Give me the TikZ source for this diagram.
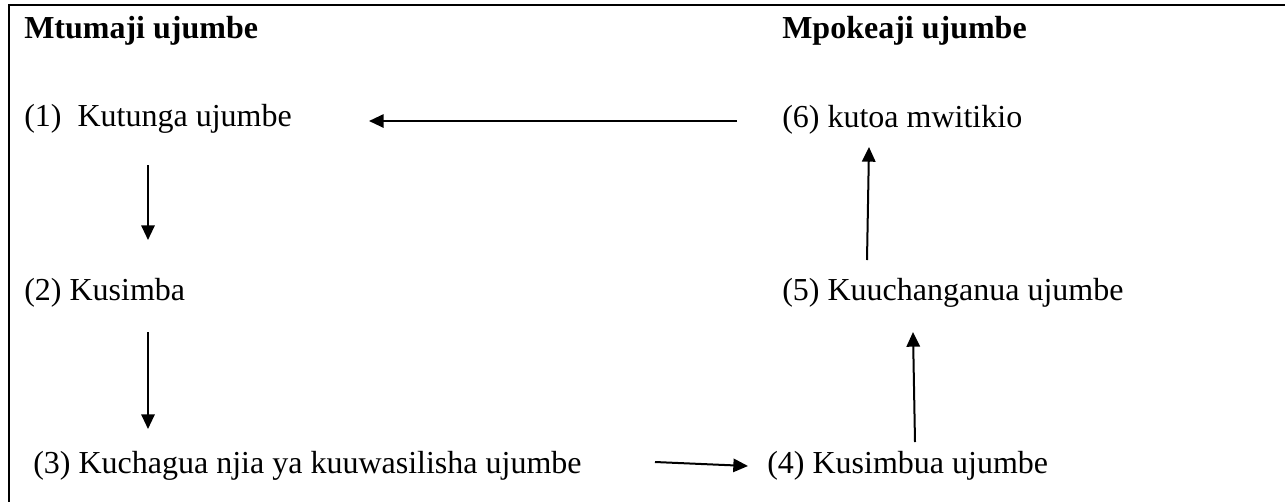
\documentclass[tikz,border=0pt]{standalone}
\usepackage{fontspec}
\setmainfont{Liberation Serif}
\usetikzlibrary{arrows.meta}
\begin{document}
\begin{tikzpicture}[x=0.75pt,y=-0.75pt,
  lbl/.style={anchor=base west,inner sep=0pt,font=\fontsize{24}{28}\selectfont},
  hdr/.style={lbl,font=\fontsize{24}{28}\selectfont\bfseries},
  arr/.style={line width=1.5pt,-{Triangle[width=10pt,length=11pt]}},
  frame/.style={line width=1.5pt}]
\useasboundingbox (0,0) rectangle (1285,501);
\draw[frame] (8.5,520) -- (8.5,5) -- (1300,5);
\node[hdr] (h1) at (24,38) {Mtumaji ujumbe};
\node[hdr] (h2) at (782,38) {Mpokeaji ujumbe};
\node[lbl] (n1) at (24,126) {(1)\ \ Kutunga ujumbe};
\node[lbl] (n6) at (782,127) {(6) kutoa mwitikio};
\node[lbl] (n2) at (24,300) {(2) Kusimba};
\node[lbl] (n5) at (782,300) {(5) Kuuchanganua ujumbe};
\node[lbl] (n3) at (33,473) {(3) Kuchagua njia ya kuuwasilisha ujumbe};
\node[lbl] (n4) at (767,473) {(4) Kusimbua ujumbe};
\coordinate (a61s) at (737,121);
\coordinate (a61e) at (369,121);
\coordinate (a12s) at (148,165);
\coordinate (a12e) at (148,240);
\coordinate (a23s) at (148,332);
\coordinate (a23e) at (148,429);
\coordinate (a34s) at (655,462);
\coordinate (a34e) at (748,466);
\coordinate (a45s) at (915,442);
\coordinate (a45e) at (913,332);
\coordinate (a56s) at (867,260);
\coordinate (a56e) at (869,147);
\draw[arr] (a61s) -- (a61e);
\draw[arr] (a12s) -- (a12e);
\draw[arr] (a23s) -- (a23e);
\draw[arr] (a34s) -- (a34e);
\draw[arr] (a45s) -- (a45e);
\draw[arr] (a56s) -- (a56e);
\end{tikzpicture}
\end{document}
